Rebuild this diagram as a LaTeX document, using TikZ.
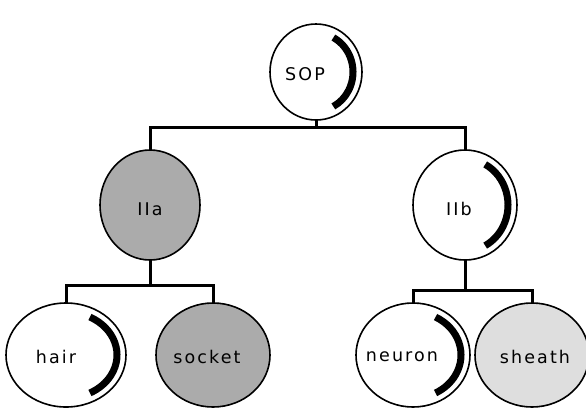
\documentclass[tikz,border=0pt]{standalone}
\usepackage{fontspec}
\setmainfont{DejaVu Sans}[LetterSpace=12]
\usetikzlibrary{shapes.geometric,calc}
\begin{document}
\begin{tikzpicture}[x=1pt,y=-1pt,
  cell/.style={ellipse,draw=black,line width=1.6pt,inner sep=0pt},
  shaded/.style={cell,fill=black!33},
  light/.style={cell,fill=black!13},
  lbl/.style={inner sep=0pt,font=\fontsize{17.5}{17.5}\selectfont},
  bus/.style={line width=3pt,line cap=rect},
  band/.style={line width=7pt}]
\useasboundingbox (0,0) rectangle (586,408);
% nodes
\node[cell,minimum width=92pt,minimum height=96pt] (sop) at (316,72) {};
\node[shaded,minimum width=100pt,minimum height=110pt] (iia) at (150,205) {};
\node[cell,minimum width=104pt,minimum height=110pt] (iib) at (465,205) {};
\node[cell,minimum width=120pt,minimum height=104pt] (hair) at (66,355) {};
\node[shaded,minimum width=114pt,minimum height=104pt] (socket) at (213,355) {};
\node[cell,minimum width=114pt,minimum height=104pt] (neuron) at (413,355) {};
\node[light,minimum width=114pt,minimum height=104pt] (sheath) at (532,355) {};
% labels
\node[lbl] (sopt) at ($(sop)+(-11,2)$) {SOP};
\node[lbl] (iiat) at ($(iia)+(0,4)$) {IIa};
\node[lbl] (iibt) at ($(iib)+(-6,4)$) {IIb};
\node[lbl] (hairt) at ($(hair)+(-10,2)$) {hair};
\node[lbl] (sockett) at ($(socket)+(-6,2)$) {socket};
\node[lbl] (neuront) at ($(neuron)+(-11,2)$) {neuron};
\node[lbl] (sheatht) at ($(sheath)+(3,2)$) {sheath};
% bands
\foreach \n/\rx/\ry in {sop/37/39, iib/43/46, hair/51/43, neuron/48/43}{
  \draw[band] (\n.center) ++(62:\rx pt and \ry pt) arc[start angle=62,end angle=-62,x radius=\rx pt,y radius=\ry pt];
}
% connectors
\coordinate (b1) at (316,127);
\draw[bus] (sop.south) -- (b1);
\draw[bus] (iia.north |- b1) -- (iib.north |- b1);
\draw[bus] (iia.north |- b1) -- (iia.north);
\draw[bus] (iib.north |- b1) -- (iib.north);
\coordinate (b2) at (150,285);
\draw[bus] (iia.south) -- (b2);
\draw[bus] (hair.north |- b2) -- (socket.north |- b2);
\draw[bus] (hair.north |- b2) -- (hair.north);
\draw[bus] (socket.north |- b2) -- (socket.north);
\coordinate (b3) at (465,290);
\draw[bus] (iib.south) -- (b3);
\draw[bus] (neuron.north |- b3) -- (sheath.north |- b3);
\draw[bus] (neuron.north |- b3) -- (neuron.north);
\draw[bus] (sheath.north |- b3) -- (sheath.north);
\end{tikzpicture}
\end{document}
